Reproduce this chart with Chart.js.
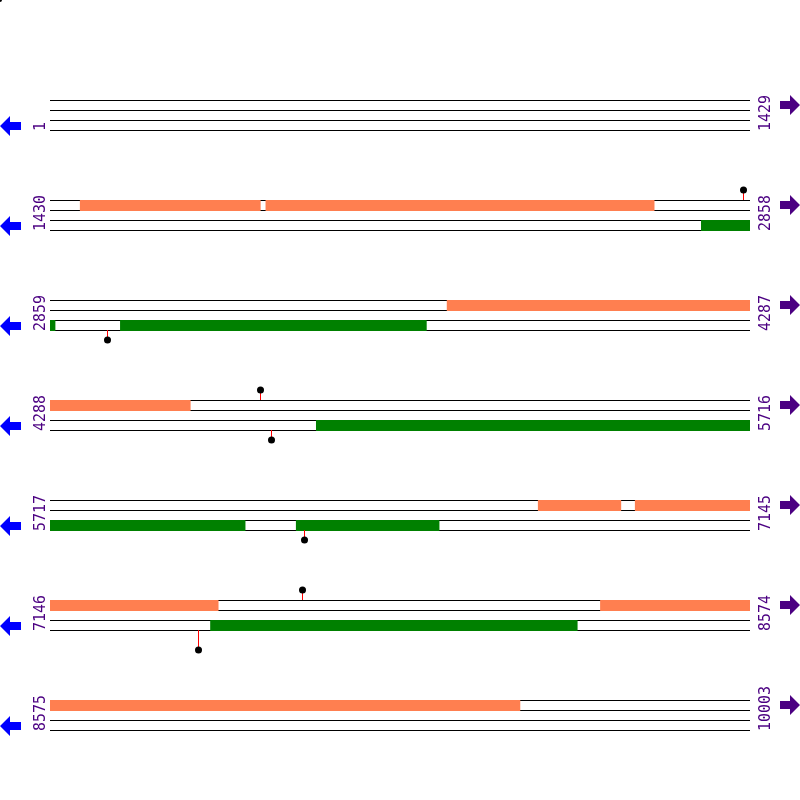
<!DOCTYPE html>
<html><head><meta charset="utf-8">
<script src="https://cdn.jsdelivr.net/npm/chart.js@4"></script>
<style>html,body{margin:0;padding:0;background:#fff}#w{width:800px;height:800px}</style>
</head><body><div id="w"><canvas id="c"></canvas></div>
<script>
const rowStarts = [1, 1430, 2859, 4288, 5717, 7146, 8575];
const rowEnds = [1429, 2858, 4287, 5716, 7145, 8574, 10003];
const rowLen = 1429;
// features: [start, end]
const forwardFeatures = [[1491,1859],[1870,2663],[3669,4287],[4288,4574],[6713,6882],[6911,7145],[7146,7489],[8269,8574],[8575,9534]];
const reverseFeatures = [[2759,2858],[2859,2869],[3002,3627],[4831,5716],[5717,6115],[6219,6511],[7473,8222]];
// lollipops: position, strand (+1 above / -1 below), stem length
const lollipopPos = [2845, 2975, 4717, 4739, 6235, 7660, 7448];
const lollipopStrand = [1, -1, 1, -1, -1, 1, -1];
const lollipopStem = [10, 10, 10, 10, 10, 10, 20];

const rowTop = 100, rowGap = 100;
const pxPerBp = 700 / rowLen;
new Chart(document.getElementById('c'), {
  type: 'scatter',
  data: { datasets: [{ data: [] }] },
  options: {
    responsive: true, maintainAspectRatio: false, animation: false,
    layout: { padding: 0 },
    plugins: { legend: { display: false }, tooltip: { enabled: false } },
    scales: {
      x: { type: 'linear', display: false, min: -50 / pxPerBp, max: rowLen + 50 / pxPerBp },
      y: { type: 'linear', display: false, min: 0, max: 800, reverse: true }
    }
  },
  plugins: [{
    id: 'map',
    afterDatasetsDraw(chart) {
      const ctx = chart.ctx, X = chart.scales.x, Y = chart.scales.y;
      const xp = (off) => X.getPixelForValue(off);
      const rowOf = (p) => rowStarts.findIndex((s, i) => p >= s && p <= rowEnds[i]);
      ctx.save();
      ctx.fillStyle = '#000'; ctx.beginPath(); ctx.arc(0, 0, 2, 0, Math.PI * 2); ctx.fill();
      rowStarts.forEach((s, i) => {
        const y0 = Y.getPixelForValue(rowTop + i * rowGap);
        const xa = xp(0), xb = xp(rowEnds[i] - s + 1);
        ctx.strokeStyle = '#000'; ctx.lineWidth = 1;
        [0, 10, 20, 30].forEach(d => { ctx.beginPath(); ctx.moveTo(xa, y0 + d + 0.5); ctx.lineTo(xb, y0 + d + 0.5); ctx.stroke(); });
        ctx.fillStyle = '#4b0082'; ctx.font = '15px "DejaVu Sans Mono"'; ctx.textBaseline = 'middle'; ctx.textAlign = 'left';
        ctx.save(); ctx.translate(41, y0 + 31); ctx.rotate(-Math.PI / 2); ctx.fillText(String(s), 0, 0); ctx.restore();
        ctx.save(); ctx.translate(766, y0 + 31); ctx.rotate(-Math.PI / 2); ctx.fillText(String(rowEnds[i]), 0, 0); ctx.restore();
        ctx.fillStyle = '#0000ff'; const ly = y0 + 26;
        ctx.beginPath(); ctx.moveTo(0, ly); ctx.lineTo(10, ly - 10); ctx.lineTo(10, ly - 4); ctx.lineTo(21, ly - 4); ctx.lineTo(21, ly + 4); ctx.lineTo(10, ly + 4); ctx.lineTo(10, ly + 10); ctx.closePath(); ctx.fill();
        ctx.fillStyle = '#4b0082'; const ry = y0 + 5;
        ctx.beginPath(); ctx.moveTo(800, ry); ctx.lineTo(790, ry - 10); ctx.lineTo(790, ry - 4); ctx.lineTo(780, ry - 4); ctx.lineTo(780, ry + 4); ctx.lineTo(790, ry + 4); ctx.lineTo(790, ry + 10); ctx.closePath(); ctx.fill();
      });
      const drawFeat = (list, color, dy) => {
        ctx.fillStyle = color;
        list.forEach(([a, b]) => {
          const r = rowOf(a); const s = rowStarts[r];
          const y0 = Y.getPixelForValue(rowTop + r * rowGap) + dy;
          const x1 = xp(a - s), x2 = xp(b - s + 1);
          ctx.fillRect(x1, y0, x2 - x1, 11);
        });
      };
      drawFeat(forwardFeatures, '#ff7f50', 0);
      drawFeat(reverseFeatures, '#008000', 20);
      lollipopPos.forEach((p, k) => {
        const r = rowOf(p); const s = rowStarts[r];
        const y0 = Y.getPixelForValue(rowTop + r * rowGap);
        const x = Math.round(xp(p - s)) + 0.5;
        const base = lollipopStrand[k] > 0 ? y0 : y0 + 30;
        const tip = base - lollipopStrand[k] * lollipopStem[k];
        ctx.strokeStyle = '#ff0000'; ctx.lineWidth = 1;
        ctx.beginPath(); ctx.moveTo(x, base); ctx.lineTo(x, tip); ctx.stroke();
        ctx.fillStyle = '#000'; ctx.beginPath(); ctx.arc(x, tip, 3.5, 0, Math.PI * 2); ctx.fill();
      });
      ctx.restore();
    }
  }]
});
</script></body></html>
